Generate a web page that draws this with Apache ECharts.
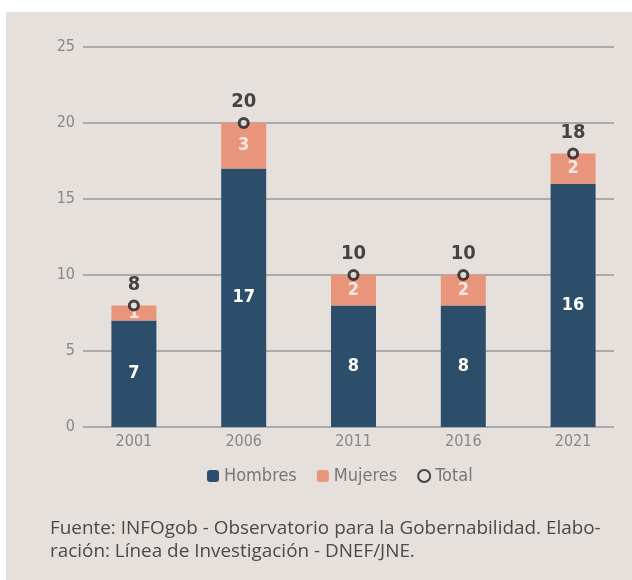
<!DOCTYPE html>
<html>
<head>
<meta charset="utf-8">
<script src="https://cdn.jsdelivr.net/npm/echarts@6/dist/echarts.min.js"></script>
<style>
  html, body { margin: 0; padding: 0; background: #fff; }
  #chart { width: 632px; height: 580px; }
</style>
</head>
<body>
<div id="chart"></div>
<script>
// datos
var anios = ['2001', '2006', '2011', '2016', '2021'];
var hombres = [7, 17, 8, 8, 16];
var mujeres = [1, 3, 2, 2, 2];
var total = [8, 20, 10, 10, 18];
var yTicks = [0, 5, 10, 15, 20, 25];

var fondo = '#e5e0dc';
var fuenteN = "'Liberation Sans Narrow', 'DejaVu Sans Condensed', 'Roboto', sans-serif";

var myChart = echarts.init(document.getElementById('chart'));
var option = {
    backgroundColor: '#fff',
    animation: false,
    graphic: [
        {
            type: 'rect', z: -10, silent: true,
            shape: { x: 6, y: 12, width: 626, height: 568 },
            style: { fill: fondo }
        },
        {
            type: 'text', left: 50, top: 517,
            style: {
                text: 'Fuente: INFOgob - Observatorio para la Gobernabilidad. Elabo-\nración: Línea de Investigación - DNEF/JNE.',
                font: "18.9px 'Open Sans', sans-serif",
                fill: '#4a4a4a',
                lineHeight: 23
            }
        }
    ],
    // grid 0: solo para las lineas guia, grid 1: para las barras
    grid: [
        { left: 83, right: 18, top: 47, bottom: 153 },
        { left: 79, right: 4, top: 47, bottom: 153 }
    ],
    legend: {
        top: 462,
        left: 202,
        itemWidth: 12,
        itemHeight: 12,
        itemGap: 20,
        textStyle: { color: '#777', fontSize: 18, fontFamily: fuenteN },
        data: ['Hombres', 'Mujeres', 'Total']
    },
    xAxis: [
        { gridIndex: 0, type: 'category', data: anios, show: false },
        {
            gridIndex: 1, type: 'category', data: anios,
            axisLine: { show: false },
            axisTick: { show: false },
            axisLabel: { color: '#888', fontSize: 16, fontFamily: fuenteN, margin: 7 }
        }
    ],
    yAxis: [
        {
            gridIndex: 0, type: 'value', min: yTicks[0], max: yTicks[yTicks.length - 1], interval: 5,
            axisLine: { show: false },
            axisTick: { show: false },
            axisLabel: { color: '#888', fontSize: 16, fontFamily: fuenteN, margin: 8 },
            splitLine: { lineStyle: { color: '#aaa', width: 2 } }
        },
        {
            gridIndex: 1, type: 'value', min: 0, max: 25, show: false,
            splitLine: { show: false }
        }
    ],
    series: [
        {
            name: 'Hombres',
            type: 'bar',
            stack: 'a',
            xAxisIndex: 1, yAxisIndex: 1,
            barWidth: 45,
            itemStyle: { color: '#2d4e6b' },
            label: {
                show: true, position: 'inside',
                color: '#fff', fontWeight: 'bold', fontSize: 18, fontFamily: fuenteN
            },
            data: hombres
        },
        {
            name: 'Mujeres',
            type: 'bar',
            stack: 'a',
            xAxisIndex: 1, yAxisIndex: 1,
            barWidth: 45,
            itemStyle: { color: '#e8957b' },
            label: {
                show: true, position: 'inside',
                color: '#f7e6df', fontWeight: 'bold', fontSize: 18, fontFamily: fuenteN
            },
            data: mujeres
        },
        {
            name: 'Total',
            type: 'scatter',
            xAxisIndex: 1, yAxisIndex: 1,
            z: 5,
            symbol: 'circle',
            symbolSize: 9,
            itemStyle: { color: fondo, borderColor: '#1a1a1f', borderWidth: 3 },
            label: {
                show: true, position: 'top', distance: 5,
                color: '#1a1a1f', fontWeight: 'bold', fontSize: 20, fontFamily: fuenteN
            },
            data: total
        }
    ]
};
myChart.setOption(option);
</script>
</body>
</html>
